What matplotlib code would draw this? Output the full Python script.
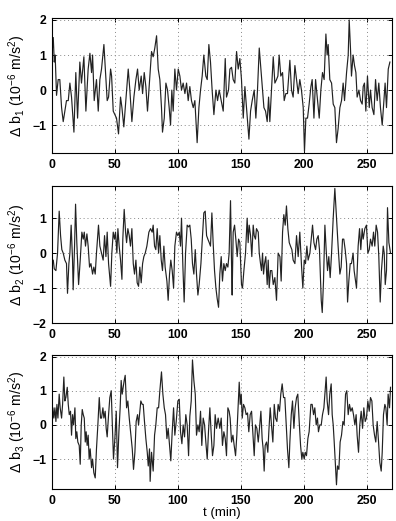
import numpy as np
import matplotlib
matplotlib.use("Agg")
import matplotlib.pyplot as plt

# values (t in minutes, b in 1e-6 m/s^2)
t1 = [0, 1.1, 1.9, 2.6, 3.7, 5.0, 6.3, 7.7, 9.0, 10.3, 11.6, 13.0, 14.3, 15.6, 17.5, 19.0, 20.4, 22.2, 23.5, 25.4,
      27.0, 28.8, 30.2, 31.5, 32.3, 33.6, 35.4, 36.8, 38.1, 39.4, 41.3, 42.9, 43.9, 45.0, 46.6, 47.4, 48.7, 50.0, 51.3, 52.9,
      54.5, 55.6, 57.1, 58.7, 60.6, 61.9, 63.5, 65.1, 66.7, 68.0, 69.3, 70.9, 72.0, 73.3, 74.6, 75.9, 77.8, 79.1, 80.4, 81.7,
      83.1, 84.4, 85.7, 87.0, 87.8, 89.2, 90.5, 91.8, 93.1, 94.2, 95.2, 96.3, 97.6, 98.9, 100.3, 101.6, 102.9, 104.2, 105.6, 106.9,
      108.2, 109.5, 110.8, 112.2, 113.5, 115.3, 116.7, 118.0, 119.3, 120.6, 122.2, 123.3, 124.6, 125.9, 127.2, 128.6, 130.2,
      131.5, 132.8, 134.4, 136.0, 137.6, 138.6, 140.2, 141.3, 142.6, 143.9, 145.2, 146.6, 147.9, 149.2, 150.5, 151.9, 153.2, 154.5, 156.4, 157.7,
      159.0, 160.6, 161.9, 163.2, 164.6, 165.9, 167.2, 168.3, 169.6, 170.9, 172.0, 173.0, 174.3, 175.7, 177.0, 178.3, 179.4, 180.4, 181.7, 183.1,
      184.4, 185.7, 187.0, 188.9, 190.2, 191.5, 192.9, 194.2, 195.5, 196.8, 198.1, 199.5, 200.5, 201.6, 202.9, 204.2, 205.6, 206.6, 208.0, 209.3,
      210.6, 212.2, 213.5, 214.8, 216.1, 217.5, 218.5, 219.3, 220.6, 222.0, 223.3, 224.6, 225.9, 227.2, 228.6, 229.9, 231.2, 232.3, 233.9, 235.2,
      236.0, 237.0, 237.8, 239.1, 240.2, 241.3, 242.3, 243.7, 245.0, 246.3, 247.1, 248.1, 249.2, 250.5, 251.9, 252.9, 254.2, 255.6, 256.9, 258.2,
      259.5, 260.8, 262.2, 263.5, 264.5, 265.6, 267.0, 268.3]
b1 = [1.0, 1.5, 0.8, 1.0, -0.15, 0.3, 0.3, -0.5, -0.9, -0.6, -0.3, -0.3, 0.2, -0.2, -1.2, 0.5, -0.8, 0.8, 0.2, 0.95,
      -0.6, 0.6, 1.05, 0.5, 1.0, -0.3, 0.3, -0.6, 0.3, 0.6, 1.3, 0.3, -0.3, -0.2, 0.6, 0.4, -0.6, -0.7, -0.8, -1.25,
      -0.2, -0.5, -1.05, -0.3, 0.6, 0.0, -0.9, -0.2, 0.3, 0.6, 0.0, 0.4, -0.1, 0.5, 0.1, -0.6, 0.4, 1.1, 0.95, 1.2,
      1.55, 0.6, 0.3, -0.5, -1.2, -0.8, 0.2, 0.0, -0.5, -1.0, 0.0, -0.6, 0.6, 0.0, 0.6, 0.4, 0.0, 0.2, -0.1, 0.2,
      -0.3, 0.1, -0.3, -0.5, -0.3, -1.5, -0.5, 0.0, 0.4, 1.0, 0.4, 0.3, 1.3, 0.8, 0.0, -0.7, 0.0,
      -0.3, 0.0, -0.3, -0.6, 0.9, -0.2, 0.0, 0.6, 0.65, 0.3, 0.2, 1.1, 0.6, 0.9, 0.3, -0.8, 0.1, -0.5, -1.4, -0.6,
      -0.3, 0.0, -0.8, 0.0, 1.2, 0.6, 0.0, -0.5, -0.6, -0.9, -0.2, -0.9, 0.0, 0.95, 0.2, 0.3, 0.4, 1.0, 0.4, 0.5,
      -0.3, -0.1, -0.1, 0.85, 0.0, -0.2, 0.7, 0.3, -0.1, 0.3, 0.0, -0.5, -1.75, -0.8, -0.8, -0.4, 0.1, 0.3, -0.8, 0.3,
      -0.2, -0.8, 0.0, 0.5, 0.3, 1.6, 1.0, 1.3, 0.3, 0.2, -0.4, -0.5, -1.5, -1.1, -0.5, -0.3, 0.2, -0.3, 0.5, 1.0,
      2.0, 1.2, 0.4, 1.0, 0.7, 0.5, -0.2, 0.0, -0.3, -0.4, 0.1, 0.2, -0.6, 0.4, -0.5, 0.0, -0.5, -0.7, 0.3, -0.3,
      0.2, -0.5, -1.0, -0.3, 0.2, -0.5, 0.6, 0.8]

t2 = [0.0, 1.1, 1.9, 3.2, 4.5, 5.8, 6.9, 7.9, 9.0, 10.3, 11.6, 12.4, 13.5, 14.3, 15.3, 16.4, 16.9, 18.0, 18.8, 19.8,
      21.2, 22.5, 23.8, 24.9, 25.7, 26.7, 27.8, 28.8, 29.9, 31.0, 32.3, 33.3, 34.4, 35.4, 37.0, 38.1, 39.4, 40.7, 41.8, 42.9,
      43.9, 45.0, 46.6, 47.6, 48.7, 49.7, 50.5, 51.6, 52.4, 53.4, 54.5, 55.6, 56.3, 57.4, 58.5, 59.3, 60.3, 61.4, 62.4, 63.5,
      64.6, 65.6, 66.7, 67.7, 68.8, 69.8, 70.9, 72.0, 73.0, 74.1, 75.4, 77.0, 78.3, 79.6, 80.4, 81.5, 82.5, 83.6, 84.7, 85.7,
      86.8, 87.8, 88.9, 89.9, 91.3, 92.3, 93.4, 94.4, 95.5, 96.6, 97.6, 98.9, 100.0, 101.1, 102.1, 102.9, 104.0, 105.0, 106.1, 107.4,
      108.5, 109.5, 110.6, 111.6, 112.7, 113.8, 114.8, 115.9, 116.9, 118.3, 119.6, 120.6, 121.7, 122.8, 123.8, 124.9, 125.9, 127.0, 128.0, 129.1,
      130.2, 131.2, 132.3,
      133.3, 134.4, 135.4, 136.5, 137.6, 138.6, 139.7, 140.7, 141.8, 142.6, 143.1, 143.9, 145.0, 146.0, 147.1, 148.2, 149.2, 150.5, 151.3, 152.4,
      153.7, 155.0, 155.8, 156.6, 157.7, 158.7, 159.8, 160.6, 161.6, 162.4, 163.8, 164.6, 165.6, 166.4, 167.2, 168.0, 168.8, 169.8, 170.9, 171.7,
      172.5, 173.5, 174.6, 175.7, 177.0, 178.3, 179.6, 181.0, 182.0, 183.1, 184.1, 185.2, 186.2, 187.3, 188.4, 189.4, 190.5, 191.5, 192.9, 194.2,
      195.5, 196.8, 198.2, 199.2, 200.3, 201.3, 202.4, 203.4, 204.8, 206.1, 206.9, 208.0, 209.3, 210.3, 211.4, 212.4, 213.8, 214.6, 215.6, 216.7,
      217.7, 218.8, 219.8, 220.9, 222.0, 223.3, 224.6, 225.9, 227.2, 228.6, 229.6, 230.7, 231.7, 232.8, 233.9, 234.7, 235.7, 236.8, 237.8, 239.1,
      239.9, 241.0, 241.8, 243.1, 244.2, 245.2, 246.3, 247.1, 248.4, 249.7, 250.8, 251.9, 252.9, 254.2, 255.3, 256.3, 257.4, 258.5, 259.5, 260.6,
      261.6, 263.0, 263.8, 264.6, 265.6, 266.4, 267.5, 268.8]
b2 = [-0.3, -0.2, -0.45, -0.5, 0.0, 1.2, 0.5, 0.1, 0.0, -0.2, -0.3, -1.15, -0.3, 0.0, 0.8, -0.2, -1.05, 0.2, 1.4, 0.3,
      -0.9, -0.2, 0.6, 0.4, 0.6, 0.2, 0.55, 0.2, -0.4, -0.3, -0.6, -0.4, -0.6, 0.0, 0.8, 0.2, 0.0, -0.2, 0.5, -0.1,
      0.6, -0.3, -0.95, 0.0, 0.6, 0.4, 0.6, 0.0, 0.7, 0.2, -0.2, -0.75, 0.4, 1.25, 0.6, 0.3, 0.7, 0.5, 0.2, 0.7,
      -0.3, -0.6, -0.2, -0.85, -0.95, -0.4, -0.85, -0.3, -0.1, 0.0, 0.2, 0.6, 0.7, 0.6, 0.8, 0.2, 0.1, 0.7, 0.0, 0.5,
      -0.2, -0.5, 0.2, -0.4, -0.8, -1.35, -0.6, -0.2, -0.5, -1.0, 0.2, 0.6, 0.5, 0.6, 0.2, 1.0, -0.4, -1.4, 0.0, 0.8,
      0.75, 0.8, 0.4, -0.3, -0.6, 0.1, -0.6, -1.2, -0.9, -0.3, 0.5, 1.15, 1.2, 0.5, 0.4, 0.3, 0.2, 1.15, 0.3, -0.5,
      -1.0, -1.3, -1.55,
      -0.6, -0.1, -0.8, -0.3, -0.5, -0.3, -0.4, 0.0, 1.5, -0.3, -1.2, 0.6, 0.8, 0.4, -0.1, 0.4, 0.3, -0.9, -1.0, -0.5,
      0.0, 1.0, 0.3, 0.8, 0.5, -0.1, 0.8, 0.5, 0.4, 0.7, 0.6, 0.0, -0.3, -0.5, 0.0, -0.6, -0.3, -0.1, -0.9, -0.2,
      -1.0, -0.5, -0.5, -0.9, -0.7, -1.35, 0.0, -0.1, -0.8, 0.6, 1.1, 0.8, 1.35, 0.7, 0.3, 0.2, 0.1, -0.2, -0.3, 0.5,
      -0.1, 0.6, -0.4, -1.0, -0.2, -0.3, 0.2, -0.2, 0.0, 0.5, 0.8, 0.3, 0.1, 0.4, 0.5, 0.1, -1.35, -1.7, -0.8, 0.8,
      0.1, -0.5, -0.1, -0.7, 0.0, 1.0, 1.85, 1.0, 0.2, -0.6, -0.4, 0.4, 0.4, 0.1, -0.3, -1.4, -0.8, -0.3, -0.3, 0.0,
      -0.5, -0.8, -1.0, 0.2, 0.7, 0.1, 0.7, 0.4, 0.7, 0.8, 0.0, 0.1, 0.4, 0.2, 0.6, 0.2, 0.8, 0.6, -0.1, -1.4,
      -0.5, 0.2, 0.0, -0.9, -0.5, 1.3, 0.3, 0.0]

t3 = [0.0, 0.8, 1.6, 2.4, 3.2, 4.0, 4.8, 5.8, 6.6, 7.7, 8.5, 9.5, 10.3, 11.1, 12.2, 13.0, 13.8, 14.8, 15.6, 16.4,
      17.2, 18.3, 19.0, 19.8, 20.6, 21.7, 22.5, 23.3, 24.1, 24.9, 25.7, 26.5, 27.2, 28.0, 28.8, 29.6, 30.4, 31.5, 32.3, 33.3,
      34.4, 35.4, 36.5, 37.6, 38.6, 39.4, 40.5, 41.3, 42.3, 43.1, 43.9, 45.0, 46.0, 47.1, 48.2, 48.9, 50.0, 51.1, 52.1, 53.2,
      54.2, 55.0, 55.8, 56.6, 57.4, 58.2, 59.3, 60.3, 61.4, 62.7, 63.8, 64.8, 65.9, 66.9, 68.0, 68.8, 69.8, 70.6, 71.7, 72.5,
      73.5, 74.6, 75.7, 76.5, 77.5, 78.0, 79.1, 80.4, 81.5, 82.5, 83.6, 84.7, 85.7, 87.0, 88.1, 89.2, 90.2, 91.3, 92.3, 93.4,
      94.4, 95.5, 96.6, 97.6, 98.7, 100.0, 101.1, 102.1, 103.2, 104.2, 105.3, 106.3, 107.4, 108.5, 109.5, 110.6, 111.6, 112.7, 113.8, 114.8,
      115.9, 116.9, 118.0, 119.0, 120.1, 121.2, 122.2, 123.3, 124.3, 125.4, 126.5, 127.5, 128.6, 129.6, 130.7, 132.0,
      133.3, 134.4, 135.4, 136.5, 137.6, 138.6, 139.7, 140.7, 141.5, 142.6, 143.7, 144.7, 145.8, 146.8, 147.9, 148.7, 149.5, 150.3, 151.1, 152.1,
      153.2, 154.2, 155.3, 156.3, 157.4, 158.5, 159.5, 160.6, 161.6, 162.7, 163.8, 164.8, 165.9, 166.9, 167.7, 168.5, 169.3, 170.4, 171.4, 172.2,
      173.3, 174.3, 175.4, 176.5, 177.5, 178.6, 179.6, 180.7, 181.7, 182.8, 183.9, 184.9, 186.0, 187.0, 188.1, 188.9, 190.0, 191.0, 192.1, 193.1,
      194.2, 195.2, 196.3, 197.4, 198.4, 199.2, 200.3, 201.1, 202.1, 203.2, 204.2, 205.6, 206.6, 207.7, 208.7, 209.8, 210.8, 211.6, 212.7, 213.8,
      214.8, 215.9, 216.9, 217.7, 218.5, 219.6, 220.6, 221.7, 222.5, 223.3, 224.1, 225.1, 225.9, 226.7, 227.8, 228.8, 229.9, 231.0, 232.0, 233.1,
      234.1, 235.2, 236.2, 237.3, 238.4, 239.4, 240.5, 241.5, 242.3, 243.4, 244.4, 245.5, 246.6, 247.6, 248.7, 249.7, 250.8, 251.9, 252.9, 254.0,
      255.0, 256.1, 257.1, 258.2, 259.3, 260.3, 261.4, 262.2, 263.2, 264.3, 265.1, 266.1, 266.9, 268.0, 268.8]
b3 = [-0.3, 0.5, 0.2, 0.5, 0.1, 0.6, 0.2, 0.9, 0.5, 0.2, 0.6, 1.4, 0.7, 0.8, 1.1, 0.6, 0.3, 0.4, -0.3, 0.3,
      0.0, 0.5, -0.4, -0.2, -0.5, -0.6, -1.15, 0.0, 0.45, 0.3, 0.2, -0.5, -0.2, -0.6, -0.3, -1.0, -0.7, -1.25, -1.0, -1.4,
      -1.55, -0.7, 0.0, 0.8, 0.2, 0.2, 0.5, 0.2, 0.4, -0.1, -0.35, 0.3, 0.8, 1.0, -0.2, -1.0, -0.4, 0.4, -1.25, -0.2,
      0.5, 1.3, 0.9, 1.1, 1.3, 1.45, 0.5, 0.7, 0.2, -0.3, -0.7, -1.3, -0.8, 0.1, 0.3, 0.0, 0.4, 0.7, 0.6, 0.6,
      0.1, -0.4, -0.8, -1.2, -0.7, -1.65, -0.8, -1.35, -0.3, 0.0, 0.5, 0.5, 1.0, 1.55, 0.9, 0.5, 0.3, -0.4, -0.1, -0.6,
      -1.05, -0.2, 0.5, -0.3, 0.1, 0.7, 0.75, -0.2, -0.55, 0.0, -0.35, 0.3, 0.0, -0.9, 0.25, 0.7, 1.9, 1.3, 0.9, -0.3,
      0.0, -0.2, 0.4, -0.6, 0.2, 0.0, -0.5, -1.0, -0.2, 0.5, -0.3, -0.9, -0.6, 0.3, -0.1, 0.2,
      -0.1, 0.2, -0.6, -0.2, -0.4, -0.9, 0.5, 0.4, 0.2, -0.5, -0.3, -0.6, -0.9, -0.3, 0.6, 1.25, 0.6, 0.9, 0.2, 0.6,
      0.5, 0.3, 0.35, -0.2, 0.3, 0.4, -0.2, -0.9, 0.0, -0.1, -0.5, -0.1, 0.4, -0.4, -0.7, -1.35, -0.6, -0.5, -0.8, -0.2,
      0.5, 0.0, -0.5, 0.6, 0.2, 0.1, 0.6, 0.4, 0.9, 1.2, 0.8, 0.8, 0.0, -0.7, -1.25, -0.5, 0.3, 0.7, -0.1, 0.5,
      0.8, 0.9, 0.1, -0.6, -1.0, -0.8, -1.0, -0.8, -0.9, -0.4, -0.2, 0.6, 0.6, 0.3, 0.5, 0.0, 0.2, -0.2, 0.0, 0.0,
      0.3, 0.5, 1.0, 1.4, 0.7, 0.3, 0.9, 1.2, 0.3, 0.0, -0.5, -1.2, -1.75, -1.2, -1.3, -0.5, -0.3, 0.1, 0.0, 0.9,
      1.0, 0.3, 0.6, 0.4, 0.5, 0.3, 0.0, 0.3, -0.3, -0.8, 0.0, 0.4, -0.1, 0.5, 0.1, 0.2, 0.7, 0.4, 0.8, 0.7,
      0.0, -0.3, -0.5, 0.1, -0.5, -1.1, -1.35, -0.8, 0.3, 0.6, 0.5, 0.0, 0.9, 0.5, 1.1]

labels = [r"$\Delta$ b$_1$ (10$^{-6}$ m/s$^2$)",
          r"$\Delta$ b$_2$ (10$^{-6}$ m/s$^2$)",
          r"$\Delta$ b$_3$ (10$^{-6}$ m/s$^2$)"]
ylims = [(-1.8, 2.05), (-2.0, 1.92), (-1.88, 2.05)]
yticks = [[-1, 0, 1, 2], [-2, -1, 0, 1], [-1, 0, 1, 2]]
xticks = [0, 50, 100, 150, 200, 250]

plt.rcParams['font.family'] = ['Liberation Sans', 'DejaVu Sans']
plt.rcParams['font.weight'] = 'bold'
plt.rcParams['mathtext.default'] = 'regular'

fig = plt.figure(figsize=(3.96, 5.21), dpi=100)
boxes = [(0.131, 0.706, 0.859, 0.259),
         (0.131, 0.380, 0.859, 0.263),
         (0.131, 0.061, 0.859, 0.258)]
series = [(t1, b1), (t2, b2), (t3, b3)]

for i in range(3):
    ax = fig.add_axes(boxes[i])
    t, b = series[i]
    ax.plot(t, b, color='#222222', lw=0.85)
    ax.set_xlim(0, 270)
    ax.set_ylim(*ylims[i])
    ax.set_xticks(xticks)
    ax.set_yticks(yticks[i])
    ax.grid(True, linestyle=(0, (1, 3)), color='#888888', lw=0.7)
    ax.tick_params(direction='in', length=3, width=0.7, labelsize=8.8,
                   top=True, right=True, pad=4)
    for s in ax.spines.values():
        s.set_linewidth(0.8)
    ax.set_ylabel(labels[i], fontsize=10.2, labelpad=3)
    if i == 2:
        ax.set_xlabel("t (min)", fontsize=9.5, labelpad=0)

fig.savefig("out.png", dpi=100)
